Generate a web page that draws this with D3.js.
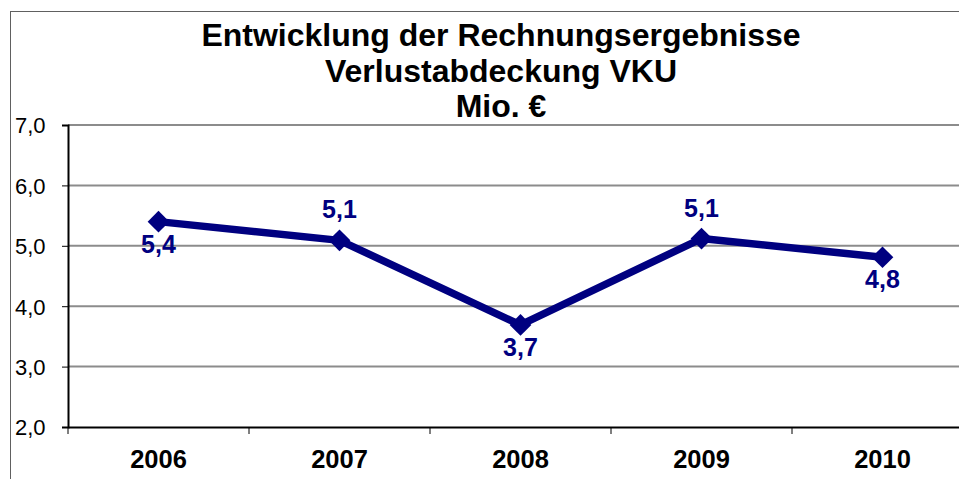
<!DOCTYPE html>
<html>
<head>
<meta charset="utf-8">
<script src="https://cdn.jsdelivr.net/npm/d3@7"></script>
<style>
  body { margin: 0; background: #fff; }
  svg { display: block; font-family: "Liberation Sans", Arial, sans-serif; }
</style>
</head>
<body>
<div id="chart"></div>
<script>
// data
var years = ["2006", "2007", "2008", "2009", "2010"];
var values = [5.4, 5.09, 3.69, 5.12, 4.81];
var valueLabels = ["5,4", "5,1", "3,7", "5,1", "4,8"];
var labelPos = ["below", "above", "below", "above", "below"];
var yTicks = [2, 3, 4, 5, 6, 7];
var titleLines = ["Entwicklung der Rechnungsergebnisse", "Verlustabdeckung VKU", "Mio. €"];

var W = 959, H = 479;
var margin = {top: 125, right: -14, bottom: 52, left: 68},
    width = W - margin.left - margin.right,
    height = H - margin.top - margin.bottom;

var svg = d3.select("#chart")
  .append("svg")
    .attr("width", W)
    .attr("height", H);

// outer chart border
svg.append("rect")
  .attr("x", 10.5).attr("y", 11.5)
  .attr("width", 960).attr("height", 480)
  .attr("fill", "none")
  .attr("stroke", "#606060")
  .attr("stroke-width", 1);

// title
svg.append("text")
  .attr("x", 501)
  .attr("y", 46)
  .attr("text-anchor", "middle")
  .style("font-weight", "bold")
  .style("font-size", "32px")
  .selectAll("tspan")
  .data(titleLines)
  .enter().append("tspan")
    .attr("x", 501)
    .attr("dy", function(d, i) { return i == 0 ? 0 : 35.5; })
    .text(function(d) { return d; });

var g = svg.append("g")
  .attr("transform", "translate(" + margin.left + "," + margin.top + ")");

var x = d3.scaleBand().domain(years).range([0, width]);
var y = d3.scaleLinear().domain([2, 7]).range([height, 0]);

// gridlines
g.selectAll(".grid")
  .data(yTicks.filter(function(d) { return d > 2; }))
  .enter().append("line")
    .attr("x1", 0).attr("x2", width)
    .attr("y1", function(d) { return y(d); })
    .attr("y2", function(d) { return y(d); })
    .attr("stroke", "#8c8c8c")
    .attr("stroke-width", 2);

// y axis
var yAxis = g.append("g")
  .call(d3.axisLeft(y).tickValues(yTicks).tickSize(6).tickPadding(14)
    .tickFormat(function(d) { return d3.format(".1f")(d).replace(".", ","); }));
yAxis.select(".domain").attr("stroke", "#000").attr("stroke-width", 2);
yAxis.selectAll("line").attr("stroke", "#000");
yAxis.selectAll("text")
  .style("font-size", "22px")
  .attr("fill", "#000")
  .attr("text-anchor", "start")
  .attr("x", -53)
  .attr("dy", "0.36em");

// x axis
var xAxis = g.append("g")
  .attr("transform", "translate(0," + height + ")")
  .call(d3.axisBottom(x).tickSize(0).tickPadding(23));
xAxis.select(".domain").attr("stroke", "#000").attr("stroke-width", 2);
xAxis.selectAll("text")
  .style("font-size", "25.5px")
  .style("font-weight", "bold")
  .attr("fill", "#000");

// category separators
g.selectAll(".sep")
  .data(years)
  .enter().append("line")
    .attr("x1", function(d) { return x(d); })
    .attr("x2", function(d) { return x(d); })
    .attr("y1", height).attr("y2", height + 7)
    .attr("stroke", "#000")
    .attr("stroke-width", 1);

// line
var line = d3.line()
  .x(function(d, i) { return x(years[i]) + x.bandwidth() / 2; })
  .y(function(d) { return y(d); });

g.append("path")
  .datum(values)
  .attr("d", line)
  .attr("fill", "none")
  .attr("stroke", "#000080")
  .attr("stroke-width", 7.5)
  .attr("stroke-linejoin", "round");

// diamond markers
g.selectAll(".marker")
  .data(values)
  .enter().append("path")
    .attr("d", d3.symbol().type(d3.symbolDiamond2).size(300))
    .attr("transform", function(d, i) {
      return "translate(" + (x(years[i]) + x.bandwidth() / 2) + "," + y(d) + ")";
    })
    .attr("fill", "#000080");

// value labels
g.selectAll(".vlabel")
  .data(values)
  .enter().append("text")
    .attr("x", function(d, i) { return x(years[i]) + x.bandwidth() / 2; })
    .attr("y", function(d, i) { return labelPos[i] == "below" ? y(d) + 31 : y(d) - 22; })
    .attr("text-anchor", "middle")
    .style("font-size", "25px")
    .style("font-weight", "bold")
    .attr("fill", "#000080")
    .text(function(d, i) { return valueLabels[i]; });
</script>
</body>
</html>
